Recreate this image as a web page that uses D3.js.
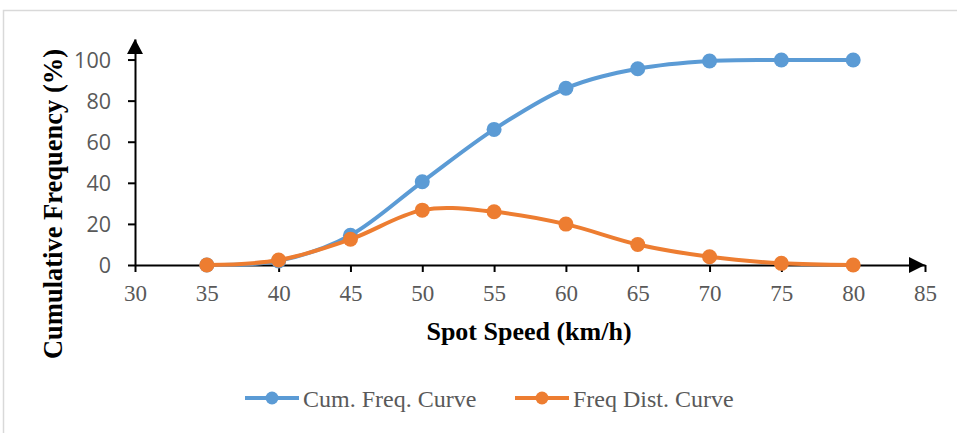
<!DOCTYPE html>
<html>
<head>
<meta charset="utf-8">
<script src="https://cdn.jsdelivr.net/npm/d3@7"></script>
<style>
  body { margin: 0; background: #fff; }
</style>
</head>
<body>
<div id="chart"></div>
<script>
// chart values
const speeds = [35, 40, 45, 50, 55, 60, 65, 70, 75, 80];
const cumFreq = [0, 2, 14.5, 40.5, 66, 86, 95.5, 99.3, 99.8, 99.8];
const freqDist = [0, 2.4, 12.5, 26.7, 25.9, 19.9, 10, 4, 0.8, 0];
const xTicks = [30, 35, 40, 45, 50, 55, 60, 65, 70, 75, 80, 85];
const yTicks = [0, 20, 40, 60, 80, 100];
const seriesNames = ["Cum. Freq. Curve", "Freq Dist. Curve"];
const seriesColors = ["#5B9BD5", "#ED7D31"];

let width = 957, height = 433;

let svg = d3.select("#chart")
    .append("svg")
    .attr("width", width)
    .attr("height", height);

// outer chart border
svg.append("rect")
    .attr("x", 3.5).attr("y", 10.5)
    .attr("width", 970).attr("height", 440)
    .attr("fill", "none")
    .attr("stroke", "#d9d9d9")
    .attr("stroke-width", 1.5);

let x = d3.scaleLinear().domain([30, 85]).range([135, 925]);
let y = d3.scaleLinear().domain([0, 110]).range([265, 39]);

// y axis
let yAxis = svg.append("g")
    .attr("transform", `translate(${x(30)},0)`)
    .call(d3.axisLeft(y).tickValues(yTicks).tickSize(7).tickSizeOuter(0).tickPadding(17));
yAxis.select(".domain").attr("stroke", "#000").attr("stroke-width", 2);
yAxis.selectAll(".tick line").attr("stroke", "#000").attr("stroke-width", 2);
yAxis.selectAll(".tick text")
    .attr("dy", "0.35em")
    .style("font-family", "'Open Sans', sans-serif")
    .style("font-size", "21.5px")
    .attr("fill", "#595959");

// x axis
let xAxis = svg.append("g")
    .attr("transform", `translate(0,${y(0)})`)
    .call(d3.axisBottom(x).tickValues(xTicks).tickSize(7).tickSizeOuter(0));
xAxis.select(".domain").attr("stroke", "#000").attr("stroke-width", 2);
xAxis.selectAll(".tick line").attr("stroke", "#000").attr("stroke-width", 2);
xAxis.selectAll(".tick text")
    .attr("y", 36).attr("dy", 0)
    .style("font-family", "'Liberation Serif', 'Times New Roman', serif")
    .style("font-size", "23px")
    .attr("fill", "#595959");

// arrow heads
let yTop = y(110), xEnd = x(85);
svg.append("path")
    .attr("d", `M${x(30)},${yTop} L${x(30) - 8},${yTop + 15} L${x(30) + 8},${yTop + 15} Z`)
    .attr("fill", "#000");
svg.append("path")
    .attr("d", `M${xEnd},${y(0)} L${xEnd - 16},${y(0) - 8} L${xEnd - 16},${y(0) + 8} Z`)
    .attr("fill", "#000");

// axis titles
svg.append("text")
    .attr("x", 529).attr("y", 340)
    .attr("text-anchor", "middle")
    .style("font-family", "'Liberation Serif', 'Times New Roman', serif")
    .style("font-size", "26px")
    .style("font-weight", "bold")
    .text("Spot Speed (km/h)");

svg.append("text")
    .attr("transform", "translate(62,204) rotate(-90)")
    .attr("text-anchor", "middle")
    .style("font-family", "'Liberation Serif', 'Times New Roman', serif")
    .style("font-size", "26.5px")
    .style("font-weight", "bold")
    .text("Cumulative Frequency (%)");

// series
let line = d3.line()
    .x((d, i) => x(speeds[i]))
    .y(d => y(d))
    .curve(d3.curveCardinal.tension(0));

[cumFreq, freqDist].forEach((vals, k) => {
    svg.append("path")
        .datum(vals)
        .attr("fill", "none")
        .attr("stroke", seriesColors[k])
        .attr("stroke-width", 4)
        .attr("d", line);

    svg.selectAll(".dot" + k)
        .data(vals)
        .enter()
        .append("circle")
        .attr("cx", (d, i) => x(speeds[i]))
        .attr("cy", d => y(d))
        .attr("r", 7.5)
        .attr("fill", seriesColors[k]);
});

// legend
let legendX = [245, 515];
seriesNames.forEach((name, k) => {
    let g = svg.append("g").attr("transform", `translate(${legendX[k]},398)`);
    g.append("line")
        .attr("x1", 0).attr("x2", 54)
        .attr("stroke", seriesColors[k])
        .attr("stroke-width", 4);
    g.append("circle")
        .attr("cx", 27).attr("r", 6.5)
        .attr("fill", seriesColors[k]);
    g.append("text")
        .attr("x", 58).attr("y", 8.5)
        .style("font-family", "'Liberation Serif', 'Times New Roman', serif")
        .style("font-size", "24px")
        .attr("fill", "#595959")
        .text(name);
});
</script>
</body>
</html>
